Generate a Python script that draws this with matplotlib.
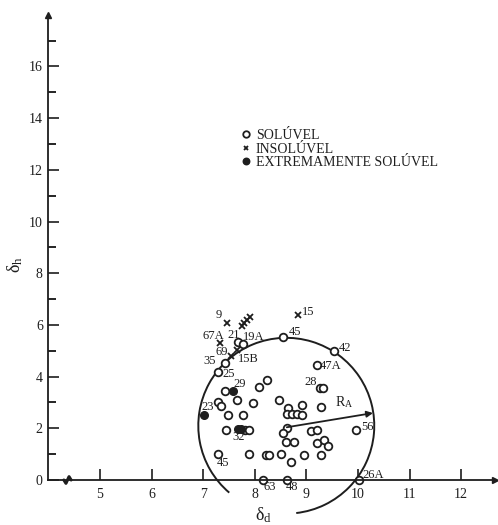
import numpy as np
import matplotlib
matplotlib.use("Agg")
import matplotlib.pyplot as plt
from matplotlib.patches import Arc

plt.rcParams['font.family'] = ['Liberation Serif', 'DejaVu Serif']
plt.rcParams['mathtext.fontset'] = 'stix'

# solúvel (open circles)
sol_x = [8.54, 9.53, 9.21, 9.27, 9.33, 7.42, 7.29, 7.68, 7.77, 7.43,
         8.08, 8.23, 7.65, 7.97, 7.29, 7.35, 7.49, 7.77, 7.45, 7.81,
         7.89, 8.46, 7.29, 7.88, 8.21, 8.28, 8.50, 8.16, 8.63, 10.01,
         9.96, 8.91, 9.28, 8.64, 8.62, 8.72, 8.81, 8.91, 8.62, 8.55,
         8.60, 8.75, 9.09, 9.20, 9.20, 9.34, 9.42, 8.70, 8.95, 9.28]
sol_y = [5.52, 4.99, 4.45, 3.54, 3.54, 4.54, 4.18, 5.32, 5.26, 3.44,
         3.60, 3.85, 3.08, 2.98, 3.00, 2.88, 2.51, 2.51, 1.93, 1.93,
         1.93, 3.11, 0.99, 0.99, 0.95, 0.95, 0.99, 0.00, 0.00, 0.00,
         1.93, 2.92, 2.84, 2.77, 2.54, 2.54, 2.54, 2.53, 2.00, 1.80,
         1.47, 1.47, 1.91, 1.95, 1.45, 1.53, 1.33, 0.68, 0.97, 0.95]

# insolúvel (x)
ins_x = [7.47, 7.75, 7.80, 7.84, 7.91, 8.84, 7.32, 7.65, 7.53]
ins_y = [6.06, 5.96, 6.07, 6.19, 6.29, 6.38, 5.29, 5.03, 4.80]

# extremamente solúvel (filled)
ext_x = [7.58, 7.02, 7.67, 7.74]
ext_y = [3.44, 2.53, 1.97, 1.97]

# point numbers and where they are written
lab_txt = ['9', '67A', '21', '19A', '69', '15B', '35', '25', '29', '23',
           '32', '45', '63', '48', '26A', '56', '28', '47A', '42', '45', '15']
lab_x = [7.31, 7.20, 7.59, 7.97, 7.36, 7.87, 7.13, 7.49, 7.71, 7.09,
         7.68, 7.39, 8.28, 8.72, 10.29, 10.18, 9.08, 9.47, 9.75, 8.78, 9.04]
lab_y = [6.38, 5.57, 5.61, 5.54, 4.96, 4.69, 4.60, 4.09, 3.72, 2.84,
         1.65, 0.67, -0.28, -0.28, 0.19, 2.06, 3.78, 4.42, 5.09, 5.71, 6.51]

# solubility sphere
cx, cy = 8.61, 2.10
rx, ry = 1.705, 3.40
ra_end = (10.29, 2.59)

ink = '#1e1e1e'

fig = plt.figure(figsize=(4.98, 5.25), dpi=100)
ax = fig.add_axes([0, 0, 1, 1])
ax.set_xlim(3.062, 12.713)
ax.set_ylim(-1.741, 18.569)

for s in ['top', 'right']:
    ax.spines[s].set_visible(False)
ax.spines['left'].set_position(('data', 4.0))
ax.spines['bottom'].set_position(('data', 0.0))
ax.spines['left'].set_bounds(0, 18.0)
ax.spines['bottom'].set_bounds(4.0, 12.65)
for s in ['left', 'bottom']:
    ax.spines[s].set_color(ink)
    ax.spines[s].set_linewidth(1.3)

ax.set_xticks(range(5, 13))
ax.set_yticks(range(0, 17, 2))
ax.set_yticks(range(1, 18, 2), minor=True)
ax.tick_params(axis='x', direction='in', length=8, width=1.2, pad=6,
               labelsize=10, colors=ink)
ax.tick_params(axis='y', direction='in', length=8, width=1.2, pad=4,
               labelsize=10, colors=ink)
ax.tick_params(axis='y', which='minor', direction='in', length=5.5, width=1.2)

# arrow heads of the axes
ax.plot([4.0], [18.0], marker='^', ms=5, color=ink, clip_on=False)
ax.plot([12.66], [0], marker='>', ms=5, color=ink, clip_on=False)
# axis break
ax.plot([4.30, 4.34, 4.37, 4.40, 4.44], [0, -0.13, 0, 0.13, 0],
        color=ink, lw=2.2, solid_capstyle='round')

# arc (angles given in data space)
phi1, phi2 = np.deg2rad(-83.5), np.deg2rad(229.6)
t1 = np.rad2deg(np.arctan2(ry * np.sin(phi1), rx * np.cos(phi1)))
t2 = np.rad2deg(np.arctan2(ry * np.sin(phi2), rx * np.cos(phi2))) % 360
ax.add_patch(Arc((cx, cy), 2 * rx, 2 * ry, theta1=t1, theta2=t2,
                 color=ink, lw=1.4))
ax.annotate('', xy=ra_end, xytext=(8.62, 2.04),
            arrowprops=dict(arrowstyle='-|>', color=ink, lw=1.3,
                            mutation_scale=9, shrinkA=0, shrinkB=0))
ax.text(9.55, 2.84, r'R$_\mathregular{A}$', fontsize=10, color=ink)

ax.plot(sol_x, sol_y, 'o', ms=5.5, mfc='white', mec=ink, mew=1.3,
        label='SOLÚVEL', clip_on=False)
ax.plot(ins_x, ins_y, 'x', ms=4, mec=ink, mew=1.3, label='INSOLÚVEL')
ax.plot(ext_x, ext_y, 'o', ms=5.5, color=ink, label='EXTREMAMENTE SOLÚVEL')

for t, x, y in zip(lab_txt, lab_x, lab_y):
    ax.text(x, y, t, fontsize=9, color=ink, ha='center', va='center')

ax.legend(loc='upper left', bbox_to_anchor=(7.62, 13.85),
          bbox_transform=ax.transData, frameon=False, fontsize=10,
          handlelength=0.5, handletextpad=0.5, labelspacing=0.05,
          borderpad=0, markerscale=0.85, labelcolor=ink)

ax.text(3.35, 8.32, r'δ$_\mathregular{h}$', fontsize=13, rotation=90,
        ha='center', va='center', color=ink)
ax.text(8.17, -1.35, r'δ$_\mathregular{d}$', fontsize=13,
        ha='center', va='center', color=ink)

fig.savefig('out.png', dpi=100)
